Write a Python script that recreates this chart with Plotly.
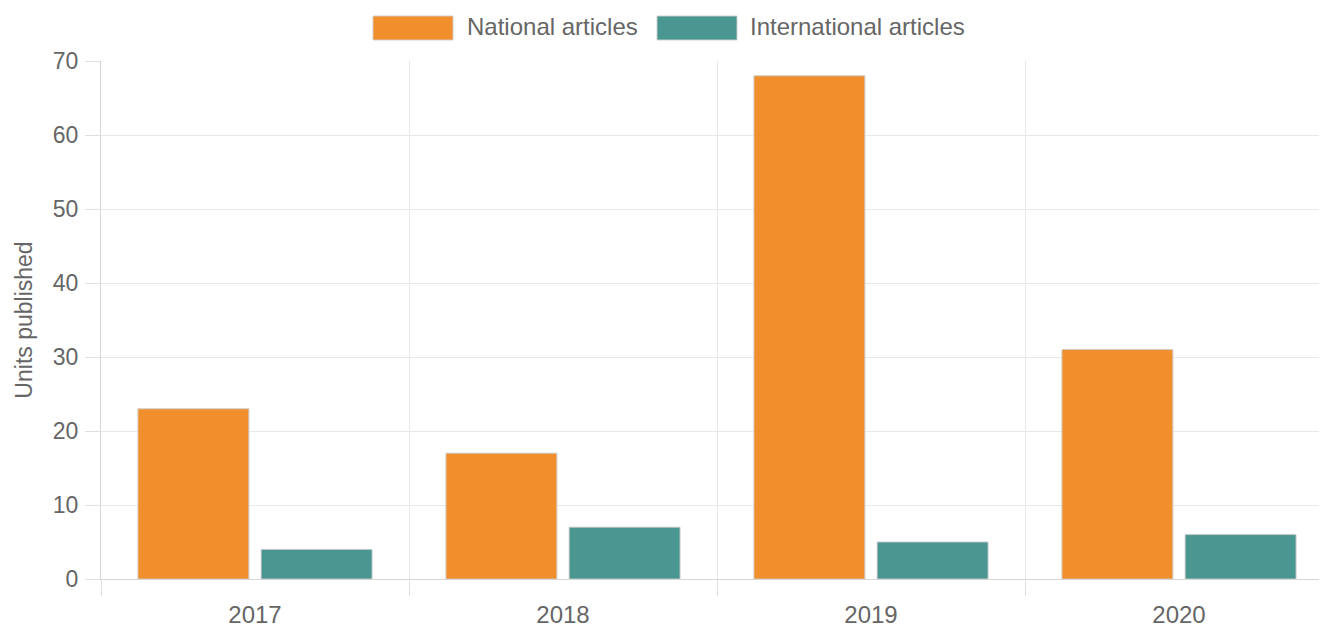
import plotly.graph_objects as go

years = ["2017", "2018", "2019", "2020"]
national = [23, 17, 68, 31]
international = [4, 7, 5, 6]
series_names = ["National articles", "International articles"]
series_colors = ["#F28F2D", "#4A9791"]

OFF = 8  # default body margin of the html page
W, H = 1319, 620
ML, MR, MT, MB = 93, 1, 53, 49
PW, PH = W - ML - MR, H - MT - MB

def px_x(p):  # page pixel -> paper x
    return (p - OFF - ML) / PW

def px_y(p):  # page pixel -> paper y
    return (H - MB - (p - OFF)) / PH

FONT = "Liberation Sans, Arial, sans-serif"
GREY = "#666666"

fig = go.Figure()
for name, vals, col in zip(series_names, [national, international], series_colors):
    fig.add_trace(go.Bar(
        x=years, y=vals, name=name,
        marker=dict(color=col, line=dict(color="rgba(200,200,200,0.9)", width=1)),
        showlegend=False,
    ))

# custom legend (Chart.js style wide boxes)
legend_boxes = [(373, 453, 466), (657, 737, 749)]
for (bx0, bx1, tx), name, col in zip(legend_boxes, series_names, series_colors):
    fig.add_shape(type="rect", xref="paper", yref="paper",
                  x0=px_x(bx0), x1=px_x(bx1), y0=px_y(40), y1=px_y(16),
                  fillcolor=col, line=dict(color="rgba(205,205,205,0.9)", width=1))
    fig.add_annotation(xref="paper", yref="paper", x=px_x(tx - 1), y=px_y(27),
                       xanchor="left", yanchor="middle", text=name, showarrow=False,
                       font=dict(family=FONT, size=24, color=GREY))

fig.update_layout(
    width=W, height=H,
    margin=dict(l=ML, r=MR, t=MT, b=MB, pad=0),
    paper_bgcolor="white", plot_bgcolor="white",
    bargap=0.2, bargroupgap=0.1, barmode="group",
    font=dict(family=FONT, size=23, color=GREY),
)
fig.update_xaxes(
    type="category",
    range=[-0.5, 3.5 - 7 / 308],
    tickson="boundaries",
    showgrid=True, gridcolor="#e8e8e8", gridwidth=1,
    ticks="outside", ticklen=16, tickcolor="#e0e0e0", tickwidth=1,
    ticklabelstandoff=14,
    showline=True, linecolor="#d6d6d6", linewidth=1,
    tickfont=dict(family=FONT, size=24, color=GREY),
)
fig.update_yaxes(
    range=[0, 70], dtick=10,
    showgrid=True, gridcolor="#e8e8e8", gridwidth=1,
    zeroline=False,
    ticks="outside", ticklen=15, tickcolor="#e0e0e0", tickwidth=1,
    ticklabelstandoff=2,
    showline=True, linecolor="#d6d6d6", linewidth=1,
    tickfont=dict(family=FONT, size=23, color=GREY),
    title=dict(text="Units published", font=dict(family=FONT, size=23, color=GREY), standoff=13),
)

fig.write_html("out.html")
